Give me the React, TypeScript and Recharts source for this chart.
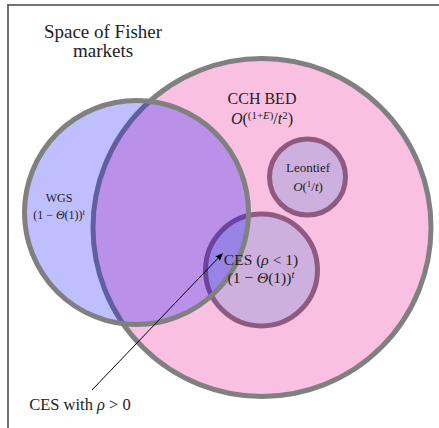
import React from 'react'
import { ScatterChart, Scatter, XAxis, YAxis, ReferenceLine } from 'recharts'

const W = 439
const H = 428

// market classes, each drawn as a circle (centre + radius in plot units, 1 unit = 1px)
const circleNames = ['CCH BED', 'Leontief', 'CES', 'WGS']
const circleX = [262, 307.5, 261.5, 136.5]
const circleY = [227.5, 177, 270, 212.5]
const circleR = [169, 38, 56, 112]

// text: *..* is italic, ^{..} is a superscript
const labelLines = [
  ['Space of Fisher', 'markets'],
  ['CCH BED', '*O*(^{(1+*E*)}/*t*^{2})'],
  ['WGS', '(1 − *Θ*(1))^{*t*}'],
  ['Leontief', '*O*(^{1}/*t*)'],
  ['CES (*ρ* < 1)', '(1 − *Θ*(1))^{*t*}'],
  ['CES with *ρ* > 0'],
]
const labelX = [103, 262, 59, 308, 261, 80]
const labelY = [38, 104, 202, 172, 265, 410]

// pointer from the "CES with rho > 0" note into the CES/WGS overlap
const arrowPoints = [
  { x: 92, y: 390 },
  { x: 223, y: 253 },
]

const circleData = circleNames.map((name, i) => ({ name, x: circleX[i], y: circleY[i], r: circleR[i] }))
const labelData = labelLines.map((lines, i) => ({ lines, x: labelX[i], y: labelY[i], idx: i }))

const circleStyle: Record<string, { fill: string; fillOpacity: number; stroke: string }> = {
  'CCH BED': { fill: '#F9C0E2', fillOpacity: 1, stroke: '#808080' },
  Leontief: { fill: '#CDB0DE', fillOpacity: 1, stroke: '#905A80' },
  CES: { fill: '#CDB0DE', fillOpacity: 1, stroke: '#905A80' },
  WGS: { fill: '#0000FF', fillOpacity: 0.25, stroke: '#808080' },
}

const serif = "'Liberation Serif', 'DejaVu Serif', serif"
const labelSize = [19, 16, 12, 13, 15.5, 16.5]
const lineGap = [19, 20, 17, 19, 18, 0]

function renderLine(src: string, size: number) {
  const out: React.ReactNode[] = []
  let shift = 0
  let k = 0
  const push = (t: string, italic: boolean, sup: boolean) => {
    const target = sup ? -size * 0.33 : 0
    out.push(
      <tspan
        key={k++}
        dy={target - shift}
        style={{ fontFamily: serif, fontStyle: italic ? 'italic' : 'normal', fontSize: sup ? size * 0.68 : size }}
      >
        {t}
      </tspan>
    )
    shift = target
  }
  const re = /\^\{([^}]*)\}|\*([^*]+)\*|([^*^]+)/g
  let m: RegExpExecArray | null
  while ((m = re.exec(src))) {
    if (m[1] !== undefined) {
      const inner = /\*([^*]+)\*|([^*]+)/g
      let n: RegExpExecArray | null
      while ((n = inner.exec(m[1]))) {
        if (n[1] !== undefined) push(n[1], true, true)
        else push(n[2], false, true)
      }
    } else if (m[2] !== undefined) push(m[2], true, false)
    else push(m[3], false, false)
  }
  return out
}

const CircleShape = (props: any) => {
  const { cx, cy, payload } = props
  const s = circleStyle[payload.name]
  return <circle cx={cx} cy={cy} r={payload.r} fill={s.fill} fillOpacity={s.fillOpacity} stroke={s.stroke} strokeWidth={5} />
}

const LabelShape = (props: any) => {
  const { cx, cy, payload } = props
  const size = labelSize[payload.idx]
  return (
    <g>
      {payload.lines.map((ln: string, j: number) => (
        <text
          key={j}
          x={cx}
          y={cy + j * lineGap[payload.idx]}
          textAnchor="middle"
          style={{ fontFamily: serif, fontSize: size }}
          fill="#222"
        >
          {renderLine(ln, size)}
        </text>
      ))}
    </g>
  )
}

// line + arrowhead, drawn from the scatter's own pixel points
const ArrowLine = (props: any) => {
  const pts = props.points || []
  if (pts.length < 2) return <g />
  const { x: x1, y: y1 } = pts[0]
  const { x: x2, y: y2 } = pts[pts.length - 1]
  const a = Math.atan2(y2 - y1, x2 - x1)
  const L = 8
  const w = 3.2
  const bx = x2 - L * Math.cos(a)
  const by = y2 - L * Math.sin(a)
  const px = -Math.sin(a) * w
  const py = Math.cos(a) * w
  return (
    <g>
      <line x1={x1} y1={y1} x2={bx + 2 * Math.cos(a)} y2={by + 2 * Math.sin(a)} stroke="#000" strokeWidth={1} />
      <path
        d={`M${x2},${y2} L${bx + px},${by + py} Q${bx + 2 * Math.cos(a)},${by + 2 * Math.sin(a)} ${bx - px},${by - py} Z`}
        fill="#000"
      />
    </g>
  )
}

export default function App() {
  return (
    <div style={{ position: 'absolute', left: 0, top: 0, width: W, height: H, background: '#fff' }}>
      <ScatterChart width={W} height={H} margin={{ top: 0, right: 0, bottom: 0, left: 0 }}>
        <XAxis type="number" dataKey="x" domain={[0, W]} hide allowDataOverflow />
        <YAxis type="number" dataKey="y" domain={[0, H]} reversed hide allowDataOverflow />
        <ReferenceLine segment={[{ x: 7, y: 5 }, { x: W, y: 5 }]} stroke="#444" strokeWidth={1.5} ifOverflow="visible" />
        <ReferenceLine segment={[{ x: 8, y: 5 }, { x: 8, y: H }]} stroke="#444" strokeWidth={1.5} ifOverflow="visible" />
        <Scatter data={circleData} shape={CircleShape} isAnimationActive={false} />
        <Scatter data={labelData} shape={LabelShape} isAnimationActive={false} />
        <Scatter data={arrowPoints} line={ArrowLine} shape={() => <g />} isAnimationActive={false} />
      </ScatterChart>
    </div>
  )
}
